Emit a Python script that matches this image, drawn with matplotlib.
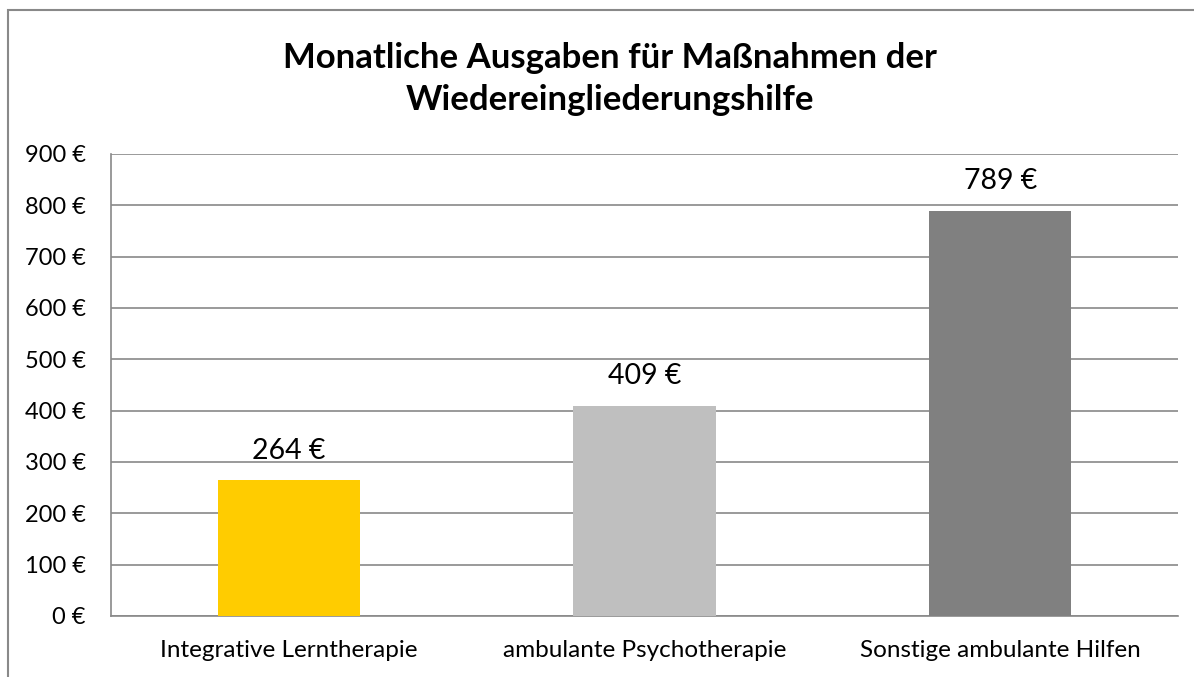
import matplotlib
matplotlib.use("Agg")
import matplotlib.pyplot as plt
from matplotlib.patches import Rectangle
from matplotlib.ticker import FuncFormatter

categories = ["Integrative Lerntherapie", "ambulante Psychotherapie", "Sonstige ambulante Hilfen"]
values = [264, 409, 789]
colors = ["#FFCC00", "#BFBFBF", "#808080"]
title = "Monatliche Ausgaben für Maßnahmen der\nWiedereingliederungshilfe"
yticks = [0, 100, 200, 300, 400, 500, 600, 700, 800, 900]

plt.rcParams['font.family'] = ['Lato', 'DejaVu Sans']

W, H = 1194, 677
fig = plt.figure(figsize=(W / 100, H / 100), dpi=100)
ax = fig.add_axes([111 / W, (H - 616) / H, (1178 - 111) / W, (616 - 154) / H])

x = list(range(len(categories)))
bars = ax.bar(x, values, width=0.40, color=colors, zorder=3)
ax.set_xlim(-0.5, len(categories) - 0.5)
ax.set_ylim(0, 900)
ax.set_yticks(yticks)
ax.yaxis.set_major_formatter(FuncFormatter(lambda v, p: f"{int(v)} €"))
ax.set_xticks(x)
ax.set_xticklabels(categories)

grid_c = "#898989"
ax.grid(axis='y', color=grid_c, linewidth=1.2, zorder=0)
for s in ["top", "right"]:
    ax.spines[s].set_visible(False)
for s in ["left", "bottom"]:
    ax.spines[s].set_color(grid_c)
    ax.spines[s].set_linewidth(1.2)
ax.tick_params(axis='y', length=0, pad=18, labelsize=17, colors='black')
ax.tick_params(axis='x', length=0, pad=17, labelsize=17.5, colors='black')

for b, v in zip(bars, values):
    ax.annotate(f"{v} €", (b.get_x() + b.get_width() / 2, v), xytext=(0, 12),
                textcoords='offset points', ha='center', va='bottom', fontsize=20.5)

fig.text(610 / W, 1 - 79 / H, title, ha='center', va='center', fontsize=25,
         fontweight='bold', linespacing=1.35)

fig.patches.append(Rectangle((8 / W, -0.1), 1.2, 1 - 10 / H + 0.1, transform=fig.transFigure,
                             fill=False, edgecolor=grid_c, linewidth=1.5))

fig.savefig("out.png", dpi=100, facecolor="white")
